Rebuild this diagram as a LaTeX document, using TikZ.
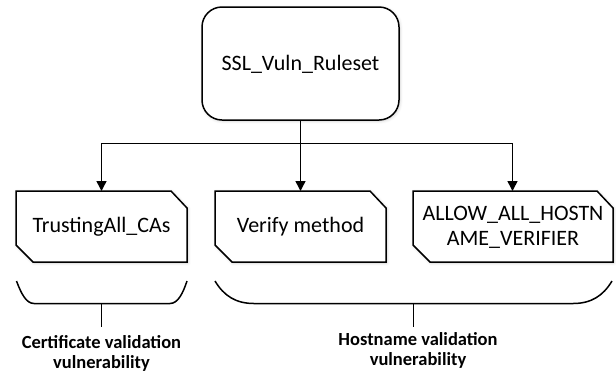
\documentclass[tikz,border=0pt]{standalone}
\usepackage{fontspec}
\setmainfont{Carlito}
\usetikzlibrary{arrows.meta,shadows.blur}

\tikzset{
  x=1pt, y=-1pt,
  line/.style={line width=1.5pt, black},
  arrowline/.style={line, -{Triangle[length=10pt,width=10pt]}},
  softshadow/.style={blur shadow={shadow xshift=1pt, shadow yshift=-1pt,
      shadow blur steps=6, shadow blur radius=3pt, shadow opacity=18,
      shadow scale=1}},
  rootbox/.style={line, draw, fill=white, rounded corners=20pt, softshadow},
  cutbox/.style={line, draw, fill=white, softshadow},
  boxtext/.style={font=\fontsize{22}{25}\selectfont, align=center},
  labeltext/.style={font=\bfseries\fontsize{18.5}{20}\selectfont, align=center},
}

\begin{document}
\begin{tikzpicture}
  \useasboundingbox (0,0) rectangle (616,373);

  % root rule set
  \draw[rootbox] (202,7) rectangle (399,120);
  \node[boxtext] (root) at (300.5,64) {SSL\_Vuln\_Ruleset};
  \coordinate (rootbot) at (300.5,120);

  % child boxes with clipped top-right and bottom-left corners
  \draw[cutbox] (16,191) -- (171,191) -- (187,208) -- (187,262)
                -- (33,262) -- (16,245) -- cycle;
  \node[boxtext] (trust) at (101.5,226.5) {TrustingAll\_CAs};
  \coordinate (trusttop) at (101.5,191);

  \draw[cutbox] (215,191) -- (370,191) -- (386,208) -- (386,262)
                -- (232,262) -- (215,245) -- cycle;
  \node[boxtext] (verify) at (300.5,226.5) {Verify method};
  \coordinate (verifytop) at (300.5,191);

  \draw[cutbox] (413,191) -- (597,191) -- (613,208) -- (613,262)
                -- (430,262) -- (413,245) -- cycle;
  \node[boxtext] (allow) at (513,227) {ALLOW\_ALL\_HOSTN\\AME\_VERIFIER};
  \coordinate (allowtop) at (512.5,191);

  % tree connectors
  \coordinate (bus) at (300.5,143.5);
  \draw[line] (rootbot) -- (bus);
  \draw[arrowline] (bus) -| (trusttop);
  \draw[arrowline] (bus) -- (verifytop);
  \draw[arrowline] (bus) -| (allowtop);

  % brace under the certificate check
  \draw[line] (16.5,281) .. controls (21,293) and (26,303.5) .. (34,303.5)
              -- (170,303.5) .. controls (178,303.5) and (183,293) .. (187,281);
  \coordinate (certstem) at (101.5,303.5);
  \node[labeltext] (certlabel) at (101.5,353) {Certificate validation\\vulnerability};
  \draw[line] (certstem) -- (101.5,327);

  % brace under the hostname checks
  \draw[line] (215,281) .. controls (224,296) and (236,303.5) .. (254,303.5)
              -- (573,303.5) .. controls (591,303.5) and (603,296) .. (612,281);
  \coordinate (hoststem) at (413.5,303.5);
  \node[labeltext] (hostlabel) at (418,350.5) {Hostname validation\\vulnerability};
  \draw[line] (hoststem) -- (413.5,327);
\end{tikzpicture}
\end{document}
